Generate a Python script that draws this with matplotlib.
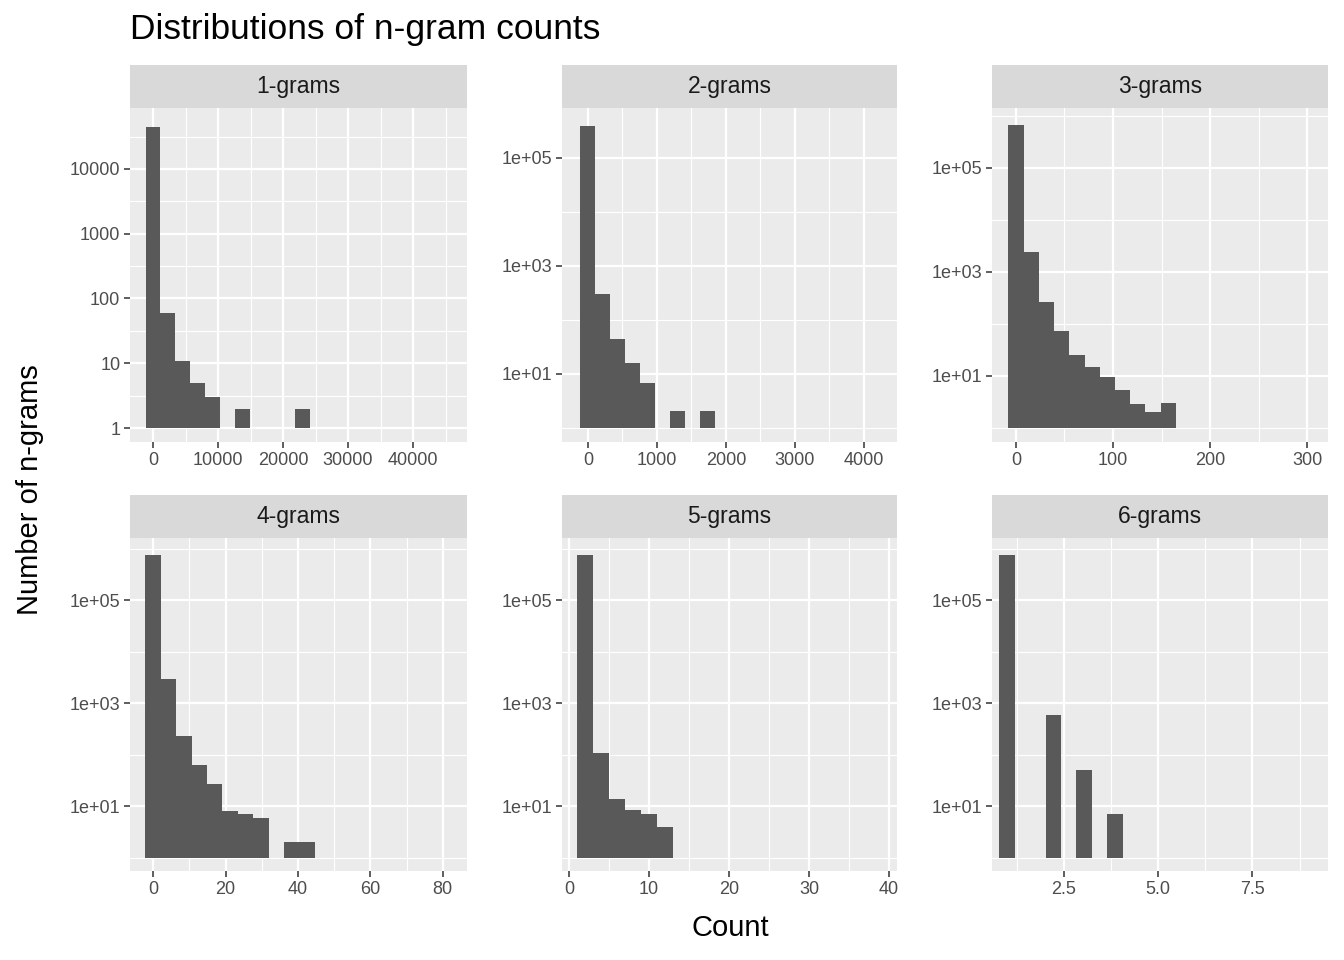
import matplotlib
matplotlib.use("Agg")
import matplotlib.pyplot as plt
import numpy as np

plt.rcParams['font.family'] = ['Liberation Sans', 'DejaVu Sans']

titles = ["1-grams", "2-grams", "3-grams", "4-grams", "5-grams", "6-grams"]
centers = [
    [0, 2300, 4600, 6900, 9200, 13800, 23000],
    [0, 217, 434, 651, 868, 1302, 1736],
    [0, 15.7, 31.4, 47.1, 62.8, 78.5, 94.2, 109.9, 125.6, 141.3, 157.0],
    [0, 4.25, 8.5, 12.75, 17.0, 21.25, 25.5, 29.75, 38.25, 42.5],
    [2, 4, 6, 8, 10, 12],
    [1.0, 2.23, 3.04, 3.85],
]
widths = [2300, 217, 15.7, 4.25, 2.0, 0.42]
counts = [
    [45000, 60, 11, 5, 3, 2, 2],
    [390000, 302, 43, 16, 6.8, 2, 2],
    [670000, 2400, 265, 74, 25, 15, 9.6, 5.4, 2.9, 2, 3],
    [750000, 2900, 230, 63, 27, 8, 7, 5.8, 2, 2],
    [750000, 107, 14, 8.4, 7, 4],
    [750000, 590, 50, 7],
]
xticks = [[0, 10000, 20000, 30000, 40000], [0, 1000, 2000, 3000, 4000], [0, 100, 200, 300],
          [0, 20, 40, 60, 80], [0, 10, 20, 30, 40], [2.5, 5.0, 7.5]]
xtick_labels = [["0", "10000", "20000", "30000", "40000"], ["0", "1000", "2000", "3000", "4000"],
                ["0", "100", "200", "300"], ["0", "20", "40", "60", "80"],
                ["0", "10", "20", "30", "40"], ["2.5", "5.0", "7.5"]]
xlims = [(-3540, 48300), (-375, 4480), (-24.7, 321.6), (-6.4, 86.7), (-0.9, 41.0), (0.6, 9.5)]
ylims = [(-0.215, 4.94), (-0.265, 5.92), (-0.27, 6.15), (-0.26, 6.21), (-0.26, 6.21), (-0.26, 6.21)]

W, H = 1344, 960
fig = plt.figure(figsize=(W/100, H/100), dpi=100)
cols = [(130, 467), (562, 897), (992, 1328)]
rows = [(65, 108, 442), (495, 538, 871)]

for i in range(6):
    r, c = divmod(i, 3)
    x0, x1 = cols[c]
    st, pt, pb = rows[r]
    ax = fig.add_axes([x0/W, 1-pb/H, (x1-x0)/W, (pb-pt)/H])
    sax = fig.add_axes([x0/W, 1-pt/H, (x1-x0)/W, (pt-st)/H])
    sax.set_facecolor('#d9d9d9')
    sax.set_xticks([]); sax.set_yticks([])
    for s in sax.spines.values():
        s.set_visible(False)
    sax.text(0.5, 0.5, titles[i], ha='center', va='center', fontsize=16.5, color='#1a1a1a',
             transform=sax.transAxes)

    ax.set_facecolor('#ebebeb')
    for s in ax.spines.values():
        s.set_visible(False)
    vals = np.log10(np.array(counts[i], dtype=float))
    ax.bar(centers[i], vals, width=widths[i], bottom=0, color='#595959', zorder=3)
    if i == 0:
        yt = [0, 1, 2, 3, 4]
        ylab = ["1", "10", "100", "1000", "10000"]
        ymin = [0.5, 1.5, 2.5, 3.5, 4.5]
    else:
        yt = [1, 3, 5]
        ylab = ["1e+01", "1e+03", "1e+05"]
        ymin = [0, 2, 4, 6]
    ax.set_yticks(yt)
    ax.set_yticklabels(ylab)
    ax.set_yticks(ymin, minor=True)
    xt = xticks[i]
    ax.set_xticks(xt)
    ax.set_xticklabels(xtick_labels[i])
    step = xt[1] - xt[0]
    xm = [xt[0] - step/2] + [t + step/2 for t in xt]
    ax.set_xticks(xm, minor=True)
    ax.set_xlim(*xlims[i])
    ax.set_ylim(*ylims[i])
    ax.grid(which='major', color='white', linewidth=1.6, zorder=1)
    ax.grid(which='minor', color='white', linewidth=0.8, zorder=1)
    ax.tick_params(which='major', length=4, width=1.1, color='#333333', labelsize=13,
                   labelcolor='#4d4d4d', pad=3)
    ax.tick_params(which='minor', length=0)
    ax.set_axisbelow(True)

fig.text(130/W, 1-30/H, "Distributions of n-gram counts", fontsize=25.5, ha='left', va='center', color='black')
fig.text(730/W, 1-928/H, "Count", fontsize=21, ha='center', va='center')
fig.text(30/W, 1-490/H, "Number of n-grams", fontsize=21, ha='center', va='center', rotation=90)

fig.savefig("out.png", dpi=100, facecolor='white')
